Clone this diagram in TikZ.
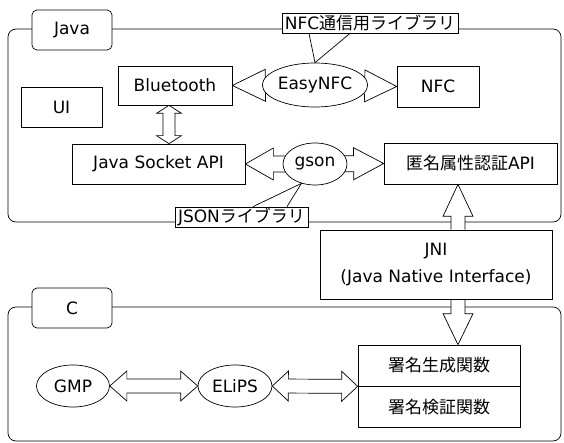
\documentclass[tikz,border=0pt]{standalone}
\usepackage{fontspec}
\setmainfont{DejaVu Sans}
\newfontfamily\jpfont{Noto Sans CJK JP}
\usetikzlibrary{shapes.geometric,positioning,calc,backgrounds}
\tikzset{
  box/.style={draw, fill=white, inner sep=0pt, line width=0.7pt},
  oval/.style={draw, fill=white, ellipse, inner sep=0pt, line width=0.7pt},
  tag/.style={draw, fill=white, rounded corners=5pt, inner sep=0pt,
    minimum width=80pt, minimum height=40pt, line width=0.7pt},
  libtag/.style={draw, fill=white, inner sep=0pt, minimum height=20pt, line width=0.7pt},
  group/.style={draw, rounded corners=8pt, line width=0.7pt},
  hollow/.style={draw, fill=white, line width=0.7pt, line join=miter},
}
% hollow arrow: tail, tip, half shaft, half head, head length
\newcommand\hollowarrow[5]{%
  \coordinate (hb) at ($(#2)!#5!(#1)$);
  \draw[hollow] ($(#1)!#3!90:(#2)$) -- ($(hb)!#3!90:(#2)$) -- ($(hb)!#4!90:(#2)$)
    -- (#2) -- ($(hb)!#4!-90:(#2)$) -- ($(hb)!#3!-90:(#2)$) -- ($(#1)!#3!-90:(#2)$);}
% hollow arrow with two heads
\newcommand\hollowdouble[5]{%
  \coordinate (ha) at ($(#1)!#5!(#2)$);
  \coordinate (hb) at ($(#2)!#5!(#1)$);
  \draw[hollow] (#1) -- ($(ha)!#4!90:(#2)$) -- ($(ha)!#3!90:(#2)$) -- ($(hb)!#3!-90:(#1)$)
    -- ($(hb)!#4!-90:(#1)$) -- (#2) -- ($(hb)!#4!90:(#1)$) -- ($(hb)!#3!90:(#1)$)
    -- ($(ha)!#3!-90:(#2)$) -- ($(ha)!#4!-90:(#2)$) -- cycle;}

\begin{document}
\begin{tikzpicture}[x=1pt, y=-1pt, font=\fontsize{17}{20}\selectfont]
  \useasboundingbox (0,0) rectangle (564,443);

  % Java side
  \node[tag] (javatag) at (72,30) {Java};
  \node[box, minimum width=81pt, minimum height=40pt] (ui) at (61.5,107) {UI};
  \node[box, minimum width=114pt, minimum height=39pt] (bt) at (175,85.5) {Bluetooth};
  \node[oval, minimum width=84pt, minimum height=44pt] (easy) at (315,85) {EasyNFC};
  \node[box, minimum width=82pt, minimum height=41pt] (nfc) at (438,86.5) {NFC};
  \node[box, minimum width=173pt, minimum height=40pt] (sock) at (158.5,164) {Java Socket API};
  \node[oval, minimum width=64pt, minimum height=42pt] (gson) at (315,164) {gson};
  \node[box, minimum width=173pt, minimum height=41pt] (anon) at (470.5,163.5) {{\jpfont 匿名属性認証}API};
  \node[libtag, minimum width=176pt] (nfclib) at (370,23) {NFC{\jpfont 通信用ライブラリ}};
  \node[libtag, minimum width=133pt] (jsonlib) at (241.5,217) {JSON{\jpfont ライブラリ}};
  \draw[line width=0.7pt] ([xshift=-61pt]nfclib.south) -- (easy.north) -- ([xshift=-20pt]nfclib.south);
  \draw[line width=0.7pt] ([xshift=11.5pt]jsonlib.north) -- (gson.235) -- ([xshift=45.5pt]jsonlib.north);

  % JNI
  \node[box, minimum width=232pt, minimum height=69pt, align=center,
    font=\fontsize{17}{27}\selectfont] (jni) at (436,264.5) {JNI\\(Java Native Interface)};

  % C side
  \node[tag] (ctag) at (72,308) {C};
  \node[oval, minimum width=73pt, minimum height=42pt] (gmp) at (73,386) {GMP};
  \node[oval, minimum width=74pt, minimum height=42pt] (elips) at (235,386) {ELiPS};
  \node[box, minimum width=162pt, minimum height=41pt] (sig1) at (439,365.5) {\jpfont 署名生成関数};
  \node[box, minimum width=162pt, minimum height=41pt, below=0pt of sig1] (sig2) {\jpfont 署名検証関数};

  \coordinate (btlow) at ([xshift=-6pt]bt.south);
  \coordinate (socktop) at (btlow |- sock.north);
  \coordinate (jtop) at ([xshift=22pt]jni.north);
  \coordinate (anonbot) at (jtop |- anon.south);
  \coordinate (jbot) at ([xshift=22pt]jni.south);
  \coordinate (sigtop) at (jbot |- sig1.north);

  \begin{scope}[on background layer]
    % groups
    \draw[group] (8,29) rectangle (561,222);
    \draw[group] (8,307) rectangle (561,441);
    % arrows
    \hollowarrow{easy.center}{bt.east}{8pt}{16pt}{33pt}
    \hollowarrow{easy.center}{nfc.west}{8pt}{16pt}{32pt}
    \hollowarrow{gson.center}{sock.east}{8pt}{16pt}{28pt}
    \hollowarrow{gson.center}{anon.west}{8pt}{16pt}{30pt}
    \hollowdouble{btlow}{socktop}{6pt}{12.5pt}{8pt}
    \hollowarrow{jtop}{anonbot}{7pt}{15pt}{32pt}
    \hollowarrow{jbot}{sigtop}{7pt}{15pt}{31pt}
    \hollowdouble{gmp.east}{elips.west}{7pt}{15pt}{17pt}
    \hollowdouble{elips.east}{sig1.south west}{7pt}{15pt}{16pt}
  \end{scope}
\end{tikzpicture}
\end{document}
